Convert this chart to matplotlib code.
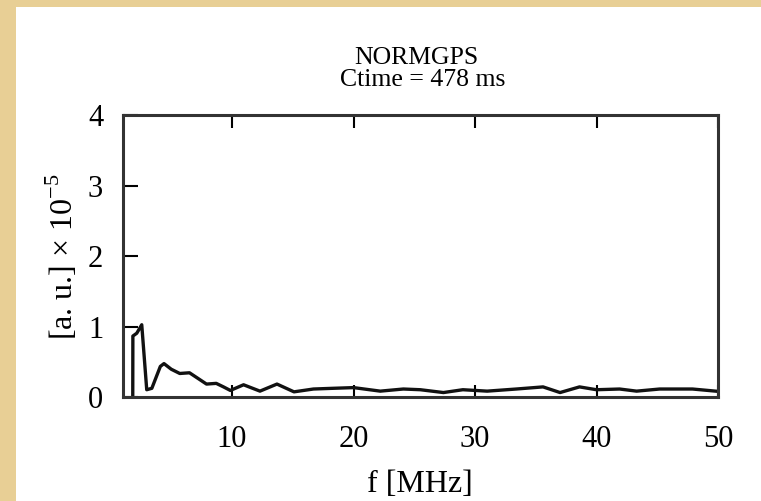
import numpy as np
import matplotlib.pyplot as plt
from matplotlib.patches import Rectangle

# spectrum (f in MHz, amplitude in 1e-5 a.u.)
freq = [1.83, 1.84, 2.16, 2.57, 2.98, 3.4, 4.1, 4.4, 5.0, 5.7, 6.5, 7.2, 7.9, 8.7,
        9.3, 9.86, 10.95, 12.3, 13.7, 15.1, 16.7, 18.3, 20.0, 22.2, 24.1, 25.5,
        27.4, 29.0, 31.0, 33.4, 35.6, 37.0, 38.6, 40.0, 41.9, 43.3, 45.2, 47.9, 49.8]
amp = [0.0, 0.87, 0.91, 1.03, 0.11, 0.13, 0.44, 0.48, 0.40, 0.34, 0.35, 0.27, 0.19, 0.20,
       0.15, 0.10, 0.18, 0.09, 0.19, 0.08, 0.12, 0.13, 0.14, 0.09, 0.12, 0.11,
       0.07, 0.11, 0.09, 0.12, 0.15, 0.07, 0.15, 0.11, 0.12, 0.09, 0.12, 0.12, 0.09]

xticks = [10, 20, 30, 40, 50]
yticks = [0, 1, 2, 3, 4]

plt.rcParams['font.family'] = 'Liberation Serif'
plt.rcParams['mathtext.fontset'] = 'custom'
plt.rcParams['mathtext.rm'] = 'Liberation Serif'

fig = plt.figure(figsize=(7.61, 5.01), dpi=100)
fig.patch.set_facecolor('#e8cf95')
# white page, tan edge only on the left and top
fig.patches.append(Rectangle((16 / 761, 0), 1, 1 - 7 / 501, transform=fig.transFigure,
                             facecolor='white', edgecolor='none', zorder=-10))

ax = fig.add_axes([0.1612, 0.2066, 0.7823, 0.5639])
ax.set_zorder(5)
ax.plot(freq, amp, color='#111111', linewidth=2.4)

ax.set_xlim(1, 50)
ax.set_ylim(0, 4)
ax.set_xticks(xticks)
ax.set_yticks(yticks)
ax.tick_params(axis='x', direction='in', length=9, width=1.5, top=True,
               labelsize=22, pad=20)
ax.tick_params(axis='y', direction='in', length=11, width=1.5, right=False,
               labelsize=22, pad=14)
for s in ax.spines.values():
    s.set_linewidth(2.2)
    s.set_color('#333333')

ax.set_xlabel('f [MHz]', fontsize=23, labelpad=11)
ax.set_ylabel(r'[a. u.] $\times$ 10$^{-5}$', fontsize=23, labelpad=6)

fig.text(416 / 761, 1 - 58 / 501, 'NORMGPS', ha='center', va='center', fontsize=18.5)
fig.text(423 / 761, 1 - 80 / 501, 'Ctime = 478 ms', ha='center', va='center', fontsize=18.5)

fig.savefig('out.png', dpi=100, facecolor=fig.get_facecolor())
